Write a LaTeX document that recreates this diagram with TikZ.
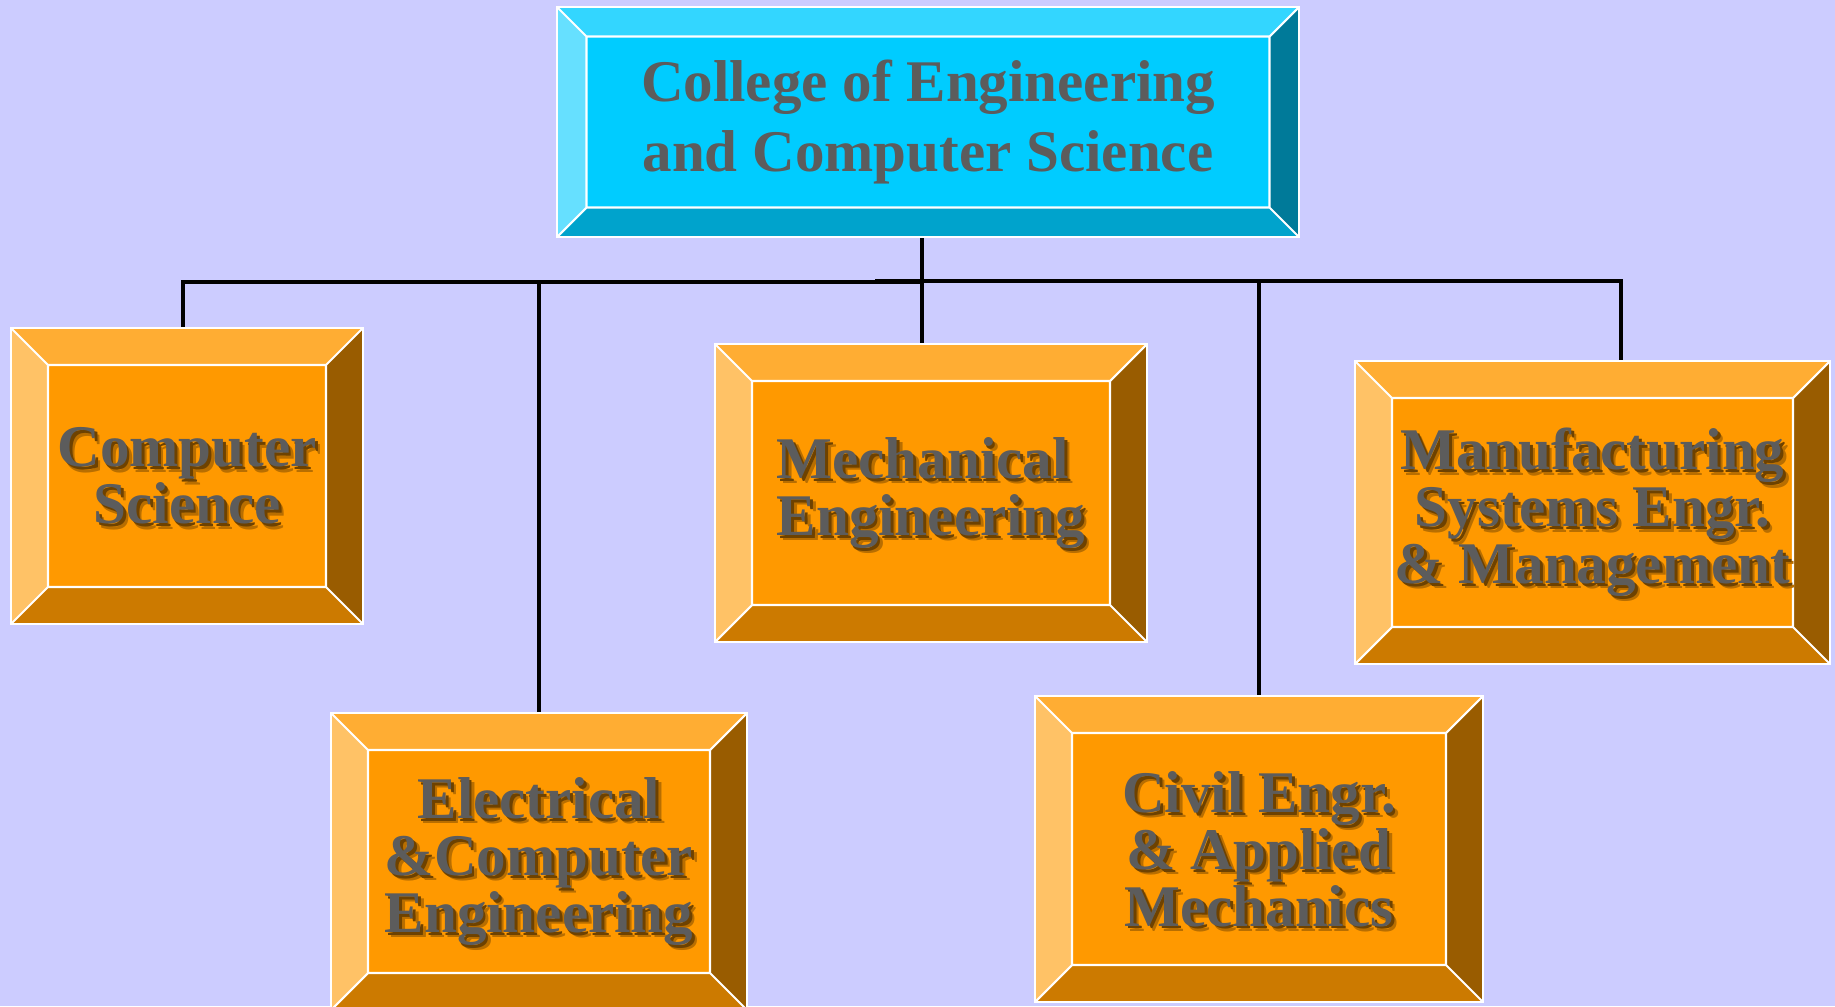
\documentclass[tikz,border=0pt]{standalone}
\usepackage{fontspec}
\setmainfont{Liberation Serif}

\definecolor{bg}{HTML}{CCCCFF}
\definecolor{cface}{HTML}{00CCFF}
\definecolor{ctop}{HTML}{33D6FF}
\definecolor{cleft}{HTML}{66E0FF}
\definecolor{cright}{HTML}{007A99}
\definecolor{cbottom}{HTML}{00A3CC}
\definecolor{oface}{HTML}{FF9900}
\definecolor{otop}{HTML}{FFAD33}
\definecolor{oleft}{HTML}{FFC266}
\definecolor{oright}{HTML}{995C00}
\definecolor{obottom}{HTML}{CC7A00}
\definecolor{textgray}{HTML}{5C5C5C}
\definecolor{shadowdark}{HTML}{6E4200}
\definecolor{shadowsoft}{HTML}{B86E00}

\newcommand{\collegefont}{\fontsize{16.8}{19.9}\selectfont\bfseries}
\newcommand{\deptfont}{\fontsize{16.8}{16.2}\selectfont\bfseries}

\newcommand{\bevelpic}[6]{%
    \path (path picture bounding box.south west) coordinate (bsw)
          (path picture bounding box.north east) coordinate (bne)
          (path picture bounding box.north west) coordinate (bnw)
          (path picture bounding box.south east) coordinate (bse)
          ([shift = {(#1, #1)}]bsw) coordinate (isw)
          ([shift = {(-#1, -#1)}]bne) coordinate (ine)
          (isw |- ine) coordinate (inw)
          (ine |- isw) coordinate (ise);
    \fill[#3] (bnw) -- (bne) -- (ine) -- (inw) -- cycle;
    \fill[#4] (bnw) -- (inw) -- (isw) -- (bsw) -- cycle;
    \fill[#5] (bne) -- (bse) -- (ise) -- (ine) -- cycle;
    \fill[#6] (bsw) -- (isw) -- (ise) -- (bse) -- cycle;
    \fill[#2] (isw) rectangle (ine);
    \draw[white, line width = 0.6pt] (isw) rectangle (ine)
        (bnw) -- (inw) (bne) -- (ine) (bsw) -- (isw) (bse) -- (ise);
}

\tikzset{
    wire/.style = {line width = 1.2pt, black},
    college/.style = {rectangle, draw = white, line width = 0.6pt, align = center,
        font = \collegefont, text = textgray,
        path picture = {\bevelpic{0.295}{cface}{ctop}{cleft}{cright}{cbottom}}},
    deptshadow/.style = {draw = none, fill = none, font = \deptfont, text = #1},
    dept/.style 2 args = {rectangle, draw = white, line width = 0.6pt, align = #1,
        font = \deptfont, text = textgray,
        path picture = {\bevelpic{0.37}{oface}{otop}{oleft}{oright}{obottom}
            \node at ([shift = {(1.5pt, -1.5pt)}]path picture bounding box.center)
                [deptshadow = shadowsoft, align = #1, node contents = {#2}];
            \node at ([shift = {(0.8pt, -0.8pt)}]path picture bounding box.center)
                [deptshadow = shadowdark, align = #1, node contents = {#2}];},
        node contents = {#2}}
}

\begin{document}
\begin{tikzpicture}
    \useasboundingbox (0, 0) rectangle (18.35, 10.06);
    \fill[bg] (0, 0) rectangle (18.35, 10.06);

    \node[college, minimum width = 7.42cm, minimum height = 2.30cm] (top) at (9.28, 8.84) {College of Engineering\\and Computer Science};

    \node (cs) at (1.87, 5.30) [dept = {center}{Computer\\Science}, minimum width = 3.52cm, minimum height = 2.96cm];
    \node (mech) at (9.31, 5.13) [dept = {left}{Mechanical\\Engineering}, minimum width = 4.32cm, minimum height = 2.98cm];
    \node (manu) at (15.925, 4.935) [dept = {center}{Manufacturing\\Systems Engr.\\\& Management}, minimum width = 4.75cm, minimum height = 3.03cm];
    \node (elec) at (5.39, 1.445) [dept = {center}{Electrical\\\&Computer\\Engineering}, minimum width = 4.16cm, minimum height = 2.97cm];
    \node (civil) at (12.59, 1.57) [dept = {center}{Civil Engr.\\\& Applied\\Mechanics}, minimum width = 4.48cm, minimum height = 3.06cm];

    \coordinate (hub) at (9.22, 7.237);
    \coordinate (csx) at (1.83, 7.237);
    \coordinate (busr) at (8.75, 7.25);
    \coordinate (manux) at (16.21, 7.25);

    \draw[wire] (top.south -| hub) -- (mech.north -| hub);
    \draw[wire] (cs.north -| csx) -- (csx) -- (hub);
    \draw[wire] (elec.north) -- (elec.north |- hub);
    \draw[wire] (busr) -- (manux) -- (manu.north -| manux);
    \draw[wire] (civil.north) -- (civil.north |- busr);
\end{tikzpicture}
\end{document}
